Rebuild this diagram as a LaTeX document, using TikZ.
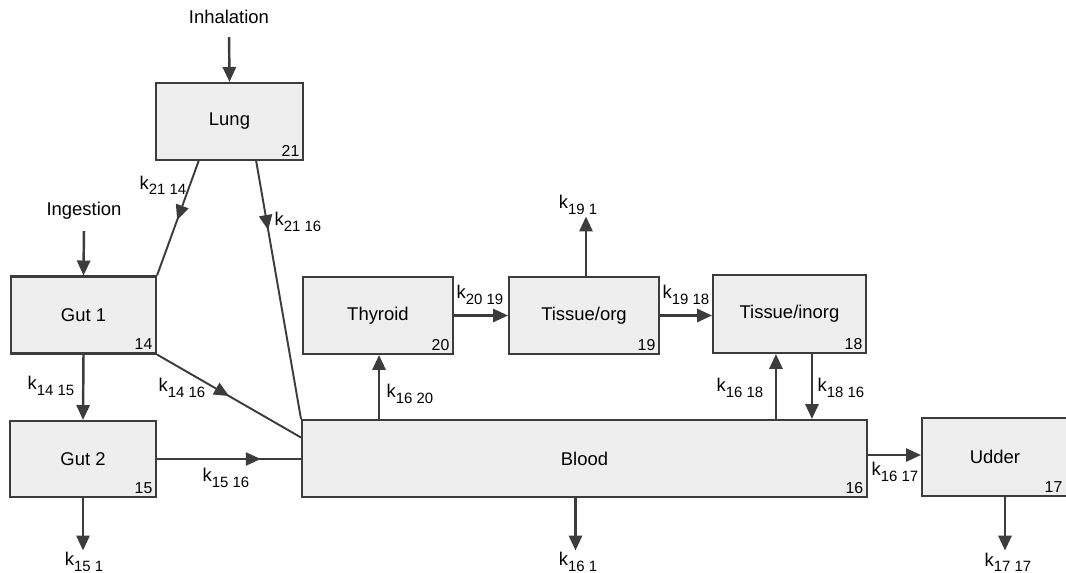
\documentclass[tikz,border=0pt]{standalone}
\usepackage{fontspec}
\setmainfont{Liberation Sans}
\usetikzlibrary{arrows.meta,decorations.markings}
\definecolor{linegray}{RGB}{60,60,60}
\definecolor{boxfill}{RGB}{238,238,238}
\newcommand{\krate}[1]{k\raisebox{-0.55ex}{\fontsize{8.5}{10}\selectfont #1}}

\begin{document}
\begin{tikzpicture}[x=0.02cm,y=-0.02cm,
		font=\fontsize{10.5}{12}\selectfont,
		comp/.style={draw=linegray,line width=1.2pt,fill=boxfill,minimum height=1.54cm,inner sep=0pt},
		num/.style={anchor=south east,inner sep=2.5pt,font=\fontsize{9}{10}\selectfont},
		flow/.style={draw=linegray,line width=1.4pt,-{Triangle[length=8.5pt,width=7.5pt]}},
		midflow/.style={draw=linegray,line width=1.1pt,
			decoration={markings,mark=at position #1 with {\arrow{Triangle[length=8.5pt,width=7.5pt]}}},
			postaction={decorate}},
		midflow/.default=0.5,
		rate/.style={inner sep=1pt}]
		\useasboundingbox (0,0) rectangle (1066,572);
		
		% compartments
		\node[comp,minimum width=2.94cm] (lung) at (229.5,121.5) {Lung};
		\node[num] at (lung.south east) {21};
		\node[comp,minimum width=2.90cm] (gut1) at (83.5,315) {Gut 1};
		\node[num] at (gut1.south east) {14};
		\node[comp,minimum width=2.92cm,minimum height=1.52cm] (gut2) at (83,459) {Gut 2};
		\node[num] at (gut2.south east) {15};
		\node[comp,minimum width=11.30cm] (blood) at (584.5,458.5) {Blood};
		\node[num] at (blood.south east) {16};
		\node[comp,minimum width=3.00cm] (thyroid) at (378,315.5) {Thyroid};
		\node[num] at (thyroid.south east) {20};
		\node[comp,minimum width=3.00cm] (tisorg) at (584,315.5) {Tissue/org};
		\node[num] at (tisorg.south east) {19};
		\node[comp,minimum width=3.06cm,minimum height=1.56cm] (tisinorg) at (789.5,314) {Tissue/inorg};
		\node[num] at (tisinorg.south east) {18};
		\node[comp,minimum width=2.92cm,minimum height=1.56cm] (udder) at (995,457) {Udder};
		\node[num] at ([xshift=-0.04cm]udder.south east) {17};
		
		% intakes
		\node (inh) at (229,17) {Inhalation};
		\node (ing) at (84,211) {Ingestion};
		\draw[flow,shorten <=4pt] (inh.south) -- (lung.north);
		\draw[flow,shorten <=3pt] (ing.south) -- (gut1.north);
		
		% transfers from lung and gut
		\coordinate (lungl) at (199,160);
		\coordinate (lungr) at (256,160);
		\draw[midflow=0.52] (lungl) -- (gut1.north east);
		\draw[midflow=0.27] (lungr) -- (blood.north west);
		\node[rate] (k2114) at (163,185) {\krate{21 14}};
		\node[rate] (k2116) at (298,222) {\krate{21 16}};
		\draw[flow] (gut1.south) -- (gut2.north);
		\node[rate] (k1415) at (51,386) {\krate{14 15}};
		\draw[midflow=0.5] (gut1.south east) -- ([yshift=0.42cm]blood.west);
		\node[rate] (k1416) at (182,388) {\krate{14 16}};
		\draw[midflow=0.72] (gut2.east) -- (gut2.east -| blood.west);
		\node[rate] (k1516) at (226,478) {\krate{15 16}};
		
		% blood and tissues
		\draw[flow] ([xshift=-4.11cm]blood.north) -- ([xshift=-4.11cm]blood.north |- thyroid.south);
		\node[rate] (k1620) at (410,394) {\krate{16 20}};
		\draw[flow] (thyroid.east) -- (tisorg.west);
		\node[rate] (k2019) at (480,295) {\krate{20 19}};
		\draw[flow] (tisorg.east) -- (tisorg.east -| tisinorg.west);
		\node[rate] (k1918) at (686,295) {\krate{19 18}};
		\draw[flow] ([xshift=3.83cm]blood.north) -- ([xshift=3.83cm]blood.north |- tisinorg.south);
		\node[rate] (k1618) at (740,388) {\krate{16 18}};
		\draw[flow] ([xshift=4.55cm]blood.north |- tisinorg.south) -- ([xshift=4.55cm]blood.north);
		\node[rate] (k1816) at (841,388) {\krate{18 16}};
		\draw[flow] ([yshift=0.07cm]blood.east) -- ([yshift=0.07cm]blood.east -| udder.west);
		\node[rate] (k1617) at (895,472) {\krate{16 17}};
		
		% eliminations
		\node[rate] (k191) at (578,205) {\krate{19 1}};
		\draw[flow] ([xshift=0.04cm]tisorg.north) -- ([xshift=0.04cm]tisorg.north |- k191.south);
		\node[rate] (k151) at (84,562) {\krate{15 1}};
		\draw[flow] (gut2.south) -- (gut2.south |- k151.north);
		\node[rate] (k161) at (578,562) {\krate{16 1}};
		\draw[flow] ([xshift=-0.18cm]blood.south) -- ([xshift=-0.18cm]blood.south |- k161.north);
		\node[rate] (k1717) at (1008,562) {\krate{17 17}};
		\draw[flow] ([xshift=0.2cm]udder.south) -- ([xshift=0.2cm]udder.south |- k1717.north);
	\end{tikzpicture}
\end{document}
